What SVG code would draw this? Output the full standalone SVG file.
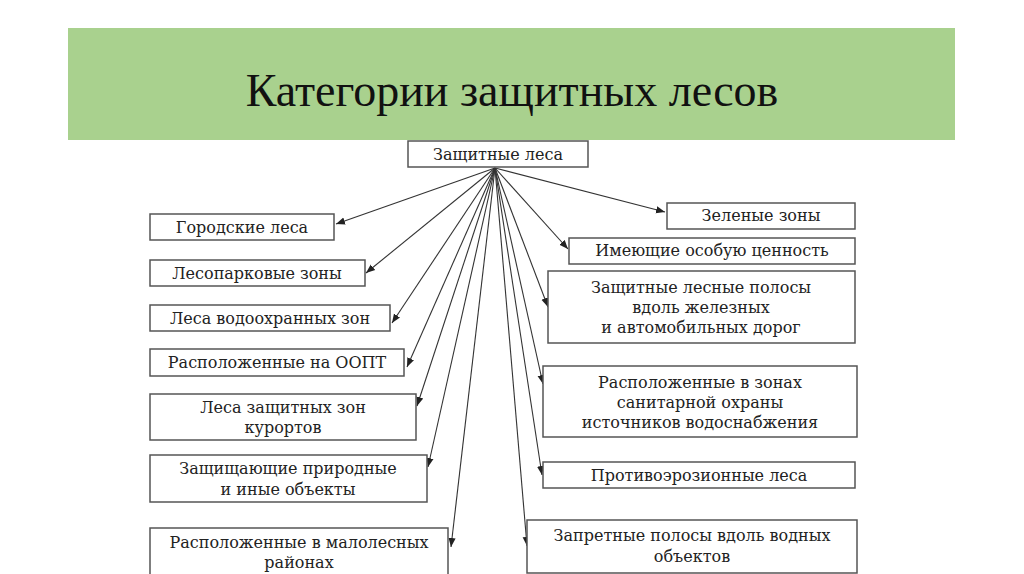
<svg xmlns="http://www.w3.org/2000/svg" width="1024" height="574" viewBox="0 0 1024 574">
<style>
.b{fill:#fff;stroke:#555;stroke-width:1.5}
.t{font-family:"DejaVu Serif","Liberation Serif",serif;font-size:16px;fill:#222;text-anchor:middle}
.c line{stroke:#333;stroke-width:1.1;marker-end:url(#a)}
</style>
<defs><marker id="a" viewBox="0 0 10 10" refX="10" refY="5" markerWidth="9" markerHeight="9" markerUnits="userSpaceOnUse" orient="auto"><path d="M0,1 L10,5 L0,9 Z" fill="#222"/></marker></defs>
<rect width="1024" height="574" fill="#fff"/>
<rect x="68" y="28" width="887" height="112" fill="#a9d18e"/>
<text x="512" y="106" style="font-family:'Liberation Serif',serif;font-size:46px;fill:#111" text-anchor="middle">Категории защитных лесов</text>
<g class="c">
<line x1="495" y1="168" x2="336" y2="224"/>
<line x1="495" y1="168" x2="366" y2="273"/>
<line x1="495" y1="168" x2="392" y2="323"/>
<line x1="495" y1="168" x2="407" y2="367"/>
<line x1="495" y1="168" x2="417" y2="406"/>
<line x1="495" y1="168" x2="428" y2="467"/>
<line x1="495" y1="168" x2="451" y2="547"/>
<line x1="495" y1="168" x2="665" y2="212"/>
<line x1="495" y1="168" x2="568" y2="249"/>
<line x1="495" y1="168" x2="548" y2="307"/>
<line x1="495" y1="168" x2="543" y2="384"/>
<line x1="495" y1="168" x2="542" y2="475"/>
<line x1="495" y1="168" x2="527" y2="546"/>
</g>
<g id="root"><rect class="b" x="408" y="141" width="180" height="26"/><text class="t" x="498" y="160">Защитные леса</text></g>
<g id="l1"><rect class="b" x="150" y="214" width="184" height="26"/><text class="t" x="242" y="233">Городские леса</text></g>
<g id="l2"><rect class="b" x="150" y="260" width="215" height="26"/><text class="t" x="257" y="279">Лесопарковые зоны</text></g>
<g id="l3"><rect class="b" x="150" y="305" width="240" height="26"/><text class="t" x="270" y="324">Леса водоохранных зон</text></g>
<g id="l4"><rect class="b" x="150" y="349" width="254" height="27"/><text class="t" x="277" y="368">Расположенные на ООПТ</text></g>
<g id="l5"><rect class="b" x="150" y="394" width="266" height="46"/><text class="t" x="283" y="413">Леса защитных зон</text><text class="t" x="283" y="433">курортов</text></g>
<g id="l6"><rect class="b" x="150" y="455" width="277" height="47"/><text class="t" x="288" y="474">Защищающие природные</text><text class="t" x="288" y="495">и иные объекты</text></g>
<g id="l7"><rect class="b" x="150" y="528" width="298" height="50"/><text class="t" x="299" y="548">Расположенные в малолесных</text><text class="t" x="299" y="568">районах</text></g>
<g id="r1"><rect class="b" x="667" y="203" width="188" height="26"/><text class="t" x="761" y="221">Зеленые зоны</text></g>
<g id="r2"><rect class="b" x="569" y="238" width="286" height="26"/><text class="t" x="712" y="256">Имеющие особую ценность</text></g>
<g id="r3"><rect class="b" x="548" y="271" width="307" height="72"/><text class="t" x="701" y="293">Защитные лесные полосы</text><text class="t" x="701" y="313">вдоль железных</text><text class="t" x="701" y="333">и автомобильных дорог</text></g>
<g id="r4"><rect class="b" x="543" y="366" width="314" height="71"/><text class="t" x="700" y="388">Расположенные в зонах</text><text class="t" x="700" y="408">санитарной охраны</text><text class="t" x="700" y="428">источников водоснабжения</text></g>
<g id="r5"><rect class="b" x="543" y="462" width="312" height="26"/><text class="t" x="699" y="481">Противоэрозионные леса</text></g>
<g id="r6"><rect class="b" x="527" y="520" width="330" height="53"/><text class="t" x="692" y="541">Запретные полосы вдоль водных</text><text class="t" x="692" y="562">объектов</text></g>
</svg>
